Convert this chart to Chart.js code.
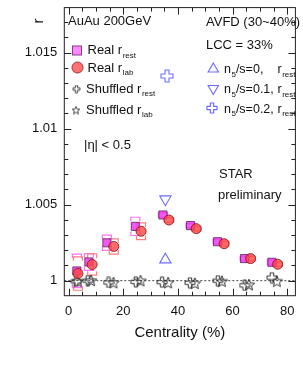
<!DOCTYPE html>
<html>
<head>
<meta charset="utf-8">
<script src="https://cdn.jsdelivr.net/npm/chart.js@4.4.1/dist/chart.umd.min.js"></script>
<style>
  html, body { margin: 0; padding: 0; background: #fff; }
</style>
</head>
<body>
<canvas id="chart" width="303" height="381"></canvas>
<script>
// ---- data ----
const restX = [3.0, 7.4, 14.0, 24.4, 34.5, 44.6, 54.5, 64.4, 74.4];
const realRest = [1.00064, 1.00123, 1.00249, 1.00357, 1.00432, 1.00362, 1.00256, 1.00145, 1.00121];
const realRestSys = [0.0011, 0.00055, 0.0005, 0.0006, 0.00015, 0.00015, 0.00015, 0.00015, 0.00015];

const labX = [3.4, 8.6, 16.5, 26.5, 36.7, 46.7, 56.9, 66.6, 76.5];
const realLab = [1.00047, 1.00106, 1.00225, 1.00325, 1.00399, 1.00342, 1.00243, 1.00145, 1.00108];
const realLabSys = [0.0011, 0.0007, 0.0005, 0.00055, 0.00015, 0.00015, 0.00015, 0.00015, 0.00015];

const shufRestX = [2.8, 7.0, 14.6, 24.6, 34.2, 44.4, 54.6, 64.4, 74.4];
const shufRest = [0.99995, 1.0, 0.99988, 0.99992, 0.9999, 0.99986, 1.0, 0.99969, 1.0002];
const shufLabX = [3.3, 8.2, 16.4, 26.3, 36.4, 46.2, 56.1, 66.0, 76.2];
const shufLab = [1.0, 1.00005, 0.9999, 1.00003, 0.9999, 0.99986, 1.0, 0.99977, 1.0];

const avfdX = [35.4];
const avfdCrossX = [36.0];
const avfdN0 = [1.00138];
const avfdN01 = [1.00536];
const avfdN02 = [1.01346];

const xMajorTicks = [0, 20, 40, 60, 80];
const xMinorTicks = [0, 5, 10, 15, 20, 25, 30, 35, 40, 45, 50, 55, 60, 65, 70, 75, 80];
const yMajorTicks = [1, 1.005, 1.01, 1.015];
const yTickLabels = ["1", "1.005", "1.01", "1.015"];
const yMinorTicks = [1, 1.001, 1.002, 1.003, 1.004, 1.005, 1.006, 1.007, 1.008, 1.009,
                     1.01, 1.011, 1.012, 1.013, 1.014, 1.015, 1.016, 1.017];

const FONT = "'Liberation Sans', Arial, Helvetica, sans-serif";
const BLUE = "#6a6aff";

// ---- marker images ----
function crossImage(size, color, lw) {
  const c = document.createElement("canvas");
  c.width = c.height = size + 2;
  const g = c.getContext("2d");
  const m = (size + 2) / 2, a = size / 2, b = size / 6;
  g.beginPath();
  g.moveTo(m - b, m - a); g.lineTo(m + b, m - a); g.lineTo(m + b, m - b);
  g.lineTo(m + a, m - b); g.lineTo(m + a, m + b); g.lineTo(m + b, m + b);
  g.lineTo(m + b, m + a); g.lineTo(m - b, m + a); g.lineTo(m - b, m + b);
  g.lineTo(m - a, m + b); g.lineTo(m - a, m - b); g.lineTo(m - b, m - b);
  g.closePath();
  g.strokeStyle = color; g.lineWidth = lw; g.stroke();
  return c;
}

function starImage(size, color, lw) {
  const c = document.createElement("canvas");
  c.width = c.height = size + 2;
  const g = c.getContext("2d");
  const m = (size + 2) / 2, R = size / 2, r = R * 0.45;
  g.beginPath();
  for (let i = 0; i < 10; i++) {
    const ang = -Math.PI / 2 + i * Math.PI / 5;
    const rr = i % 2 ? r : R;
    const px = m + rr * Math.cos(ang), py = m + 1 + rr * Math.sin(ang);
    if (i === 0) g.moveTo(px, py); else g.lineTo(px, py);
  }
  g.closePath();
  g.strokeStyle = color; g.lineWidth = lw; g.stroke();
  return c;
}

const shufCross = crossImage(10, "#333", 1);
const shufStar = starImage(12, "#333", 1);
const blueCross = crossImage(12, BLUE, 1.1);

const pts = (xs, ys) => xs.map((x, i) => ({ x: x, y: ys[i] }));

// ---- text helpers ----
function textSub(ctx, x, y, main, sub, size, after) {
  ctx.font = size + "px " + FONT;
  ctx.textBaseline = "middle";
  ctx.textAlign = "left";
  ctx.fillText(main, x, y);
  let w = ctx.measureText(main).width;
  ctx.font = Math.round(size * 0.6) + "px " + FONT;
  ctx.fillText(sub, x + w + 0.5, y + size * 0.38);
  w += ctx.measureText(sub).width + 0.5;
  if (after) {
    ctx.font = size + "px " + FONT;
    ctx.fillText(after, x + w, y);
    w += ctx.measureText(after).width;
  }
  return x + w;
}

function legendTriangle(ctx, x, y, r, down) {
  ctx.beginPath();
  const s = down ? -1 : 1;
  ctx.moveTo(x, y - s * r);
  ctx.lineTo(x + r * 0.866, y + s * r * 0.5);
  ctx.lineTo(x - r * 0.866, y + s * r * 0.5);
  ctx.closePath();
  ctx.strokeStyle = BLUE; ctx.lineWidth = 1.1; ctx.stroke();
}

const decorPlugin = {
  id: "decor",
  beforeDatasetsDraw(chart) {
    const { ctx, chartArea: a, scales: { x, y } } = chart;
    ctx.save();
    // dotted line at r = 1
    ctx.setLineDash([2, 2]);
    ctx.strokeStyle = "#444";
    ctx.lineWidth = 1;
    ctx.beginPath();
    ctx.moveTo(a.left, y.getPixelForValue(1));
    ctx.lineTo(a.right, y.getPixelForValue(1));
    ctx.stroke();
    ctx.setLineDash([]);
    // systematic boxes
    const boxes = (xs, ys, sys, color) => {
      ctx.strokeStyle = color;
      ctx.lineWidth = 1.2;
      xs.forEach((xv, i) => {
        const px = x.getPixelForValue(xv);
        const top = y.getPixelForValue(ys[i] + sys[i]);
        const bot = y.getPixelForValue(ys[i] - sys[i]);
        const hw = 4.5, leg = Math.min(4, (bot - top) / 2);
        ctx.beginPath();
        ctx.moveTo(px - hw, top + leg); ctx.lineTo(px - hw, top); ctx.lineTo(px + hw, top); ctx.lineTo(px + hw, top + leg);
        ctx.moveTo(px - hw, bot - leg); ctx.lineTo(px - hw, bot); ctx.lineTo(px + hw, bot); ctx.lineTo(px + hw, bot - leg);
        ctx.stroke();
      });
    };
    boxes(restX, realRest, realRestSys, "#ff70ff");
    boxes(labX, realLab, realLabSys, "#ff7f7f");
    ctx.restore();
  },
  afterDraw(chart) {
    const { ctx, chartArea: a, scales: { x, y } } = chart;
    ctx.save();
    // frame
    ctx.strokeStyle = "#222";
    ctx.lineWidth = 1;
    ctx.strokeRect(a.left, a.top, a.right - a.left, a.bottom - a.top);
    // tick marks on all four sides
    ctx.beginPath();
    xMinorTicks.forEach(v => {
      const px = Math.round(x.getPixelForValue(v)) + 0.5;
      const len = xMajorTicks.includes(v) ? 7 : 4;
      ctx.moveTo(px, a.bottom); ctx.lineTo(px, a.bottom - len);
      ctx.moveTo(px, a.top); ctx.lineTo(px, a.top + len);
    });
    yMinorTicks.forEach(v => {
      const py = Math.round(y.getPixelForValue(v)) + 0.5;
      const len = yMajorTicks.includes(v) ? 7 : 4;
      ctx.moveTo(a.left, py); ctx.lineTo(a.left + len, py);
      ctx.moveTo(a.right, py); ctx.lineTo(a.right - len, py);
    });
    ctx.stroke();

    ctx.fillStyle = "#111";
    // axis titles
    ctx.font = "15px " + FONT;
    ctx.textAlign = "center";
    ctx.textBaseline = "middle";
    ctx.fillText("Centrality (%)", (a.left + a.right) / 2, 333);
    ctx.save();
    ctx.translate(39, 21);
    ctx.rotate(-Math.PI / 2);
    ctx.fillText("r", 0, 0);
    ctx.restore();

    // left legend
    ctx.font = "13px " + FONT;
    ctx.textAlign = "left";
    ctx.fillText("AuAu 200GeV", 68, 21);

    ctx.fillStyle = "#ff88ff"; ctx.strokeStyle = "#8a3c8a"; ctx.lineWidth = 1;
    ctx.fillRect(72.5, 46, 9, 9); ctx.strokeRect(72.5, 46, 9, 9);
    ctx.beginPath(); ctx.arc(77.5, 67.5, 5.5, 0, Math.PI * 2);
    ctx.fillStyle = "#ff7070"; ctx.fill(); ctx.strokeStyle = "#a03030"; ctx.stroke();
    ctx.drawImage(crossImage(7, "#444", 1), 72, 84.5);
    ctx.drawImage(starImage(8, "#444", 1), 71, 104.5);

    ctx.fillStyle = "#111";
    textSub(ctx, 87.5, 50.5, "Real r", "rest", 13);
    textSub(ctx, 87.5, 68, "Real r", "lab", 13);
    textSub(ctx, 86, 89, "Shuffled r", "rest", 13);
    textSub(ctx, 86, 110, "Shuffled r", "lab", 13);
    ctx.font = "13px " + FONT;
    ctx.fillText("|\u03b7| < 0.5", 84, 145);

    // right legend
    ctx.fillText("AVFD (30~40%)", 206, 22.5);
    ctx.fillText("LCC = 33%", 206, 45.5);
    legendTriangle(ctx, 213.3, 69, 6, false);
    legendTriangle(ctx, 213.3, 88.5, 6, true);
    ctx.drawImage(crossImage(10, BLUE, 1.1), 206, 102);
    const rows = [["/s=0,", 70], ["/s=0.1,", 90], ["/s=0.2,", 109.5]];
    rows.forEach(([t, yy]) => {
      textSub(ctx, 224, yy, "n", "5", 12.5, t);
      textSub(ctx, 277.5, yy, "r", "rest", 12.5);
    });

    ctx.font = "13px " + FONT;
    ctx.fillText("STAR", 219, 174);
    ctx.fillText("preliminary", 218, 195);
    ctx.restore();
  }
};

new Chart(document.getElementById("chart"), {
  type: "scatter",
  data: {
    datasets: [
      {
        label: "Real r_lab",
        data: pts(labX, realLab),
        pointStyle: "circle",
        pointRadius: 5,
        backgroundColor: "rgba(255, 70, 70, 0.8)",
        borderColor: "rgba(140, 20, 20, 0.85)",
        borderWidth: 1,
      },
      {
        label: "Real r_rest",
        data: pts(restX, realRest),
        pointStyle: "rect",
        pointRadius: 5.7,
        backgroundColor: "rgba(240, 60, 240, 0.85)",
        borderColor: "rgba(110, 40, 110, 0.9)",
        borderWidth: 1,
      },
      {
        label: "Shuffled r_lab",
        data: pts(shufLabX, shufLab),
        pointStyle: shufStar,
        pointRadius: 5,
      },
      {
        label: "Shuffled r_rest",
        data: pts(shufRestX, shufRest),
        pointStyle: shufCross,
        pointRadius: 5,
      },
      {
        label: "n5/s=0",
        data: pts(avfdX, avfdN0),
        pointStyle: "triangle",
        pointRadius: 6.5,
        backgroundColor: "rgba(0,0,0,0)",
        borderColor: BLUE,
        borderWidth: 1.1,
      },
      {
        label: "n5/s=0.1",
        data: pts(avfdX, avfdN01),
        pointStyle: "triangle",
        rotation: 180,
        pointRadius: 6.5,
        backgroundColor: "rgba(0,0,0,0)",
        borderColor: BLUE,
        borderWidth: 1.1,
      },
      {
        label: "n5/s=0.2",
        data: pts(avfdCrossX, avfdN02),
        pointStyle: blueCross,
        pointRadius: 6,
      },
    ],
  },
  options: {
    responsive: false,
    animation: false,
    devicePixelRatio: 1,
    layout: { padding: { top: 5, right: 4.5, left: 0, bottom: 0 } },
    plugins: { legend: { display: false }, tooltip: { enabled: false } },
    scales: {
      x: {
        type: "linear",
        min: -1.6,
        max: 83,
        grid: { display: false, drawTicks: false },
        border: { display: false },
        afterBuildTicks: (s) => { s.ticks = xMajorTicks.map(v => ({ value: v })); },
        afterFit: (s) => { s.height = 85.3; s.paddingLeft = 0; s.paddingRight = 0; },
        ticks: {
          autoSkip: false,
          maxRotation: 0,
          padding: 8,
          color: "#111",
          font: { family: FONT, size: 13 },
          callback: (v) => String(v),
        },
      },
      y: {
        type: "linear",
        min: 0.99901,
        max: 1.01796,
        grid: { display: false, drawTicks: false },
        border: { display: false },
        afterBuildTicks: (s) => { s.ticks = yMajorTicks.map(v => ({ value: v })); },
        afterFit: (s) => { s.width = 64.3; s.paddingTop = 0; s.paddingBottom = 0; },
        ticks: {
          autoSkip: false,
          padding: 7,
          color: "#111",
          font: { family: FONT, size: 13 },
          callback: (v, i) => yTickLabels[i],
        },
      },
    },
  },
  plugins: [decorPlugin],
});
</script>
</body>
</html>
